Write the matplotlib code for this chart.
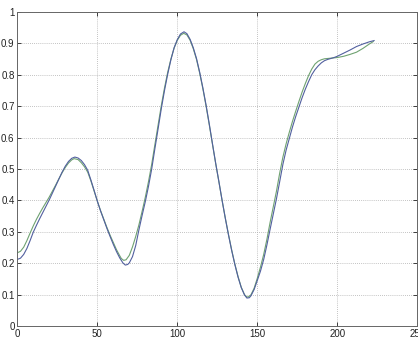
import matplotlib
matplotlib.use("Agg")
import matplotlib.pyplot as plt

# first run (blue)
blue_x = [0, 2, 4, 6, 8, 10, 12, 14, 16, 18, 20, 22, 24, 26, 28, 30, 32, 34, 36, 38,
          40, 42, 44, 46, 48, 50, 52, 54, 56, 58, 60, 62, 64, 66, 67.5, 69, 70, 72, 74,
          76, 78, 80, 82, 84, 86, 88, 90, 92, 94, 96, 98, 100, 102, 104.2, 106, 108, 110,
          112, 114, 116, 118, 120, 122, 124, 126, 128, 130, 132, 134, 136, 138, 140, 142,
          143.5, 145, 146, 148, 150, 152, 154, 156, 158, 160, 162, 164, 166, 168, 170, 172,
          174, 176, 178, 180, 182, 184, 186, 188, 190, 192, 194, 196, 198, 200, 204, 208,
          212, 216, 220, 223]
blue_y = [0.212, 0.216, 0.228, 0.247, 0.272, 0.299, 0.321, 0.342, 0.362, 0.382, 0.402,
          0.424, 0.446, 0.468, 0.490, 0.509, 0.524, 0.534, 0.538, 0.535, 0.527, 0.514,
          0.496, 0.465, 0.432, 0.398, 0.367, 0.339, 0.311, 0.285, 0.260, 0.237, 0.217,
          0.201, 0.194, 0.196, 0.201, 0.221, 0.256, 0.306, 0.352, 0.396, 0.445, 0.500,
          0.565, 0.628, 0.692, 0.750, 0.802, 0.848, 0.886, 0.912, 0.930, 0.937, 0.931,
          0.913, 0.886, 0.852, 0.808, 0.758, 0.703, 0.643, 0.580, 0.518, 0.460, 0.400,
          0.343, 0.290, 0.240, 0.195, 0.155, 0.122, 0.099, 0.089, 0.090, 0.096, 0.116,
          0.145, 0.175, 0.212, 0.258, 0.308, 0.357, 0.406, 0.460, 0.515, 0.560, 0.597,
          0.634, 0.667, 0.697, 0.727, 0.754, 0.778, 0.800, 0.816, 0.828, 0.838, 0.845,
          0.849, 0.852, 0.855, 0.859, 0.869, 0.879, 0.890, 0.898, 0.905, 0.909]

# second run (green)
green_x = [0, 2, 4, 6, 8, 10, 12, 14, 16, 18, 20, 22, 24, 26, 28, 30, 32, 34, 35.5, 38,
           40, 42, 44, 46, 48, 50, 52, 54, 56, 58, 60, 62, 64, 65, 66.5, 68, 70, 72, 74,
           76, 78, 80, 82, 84, 86, 88, 90, 92, 94, 96, 98, 100, 102, 104, 106, 108, 110,
           112, 114, 116, 118, 120, 122, 124, 126, 128, 130, 132, 134, 136, 138, 140, 142,
           143, 144.2, 146, 148, 150, 152, 154, 156, 158, 160, 162, 164, 166, 168, 170, 172,
           174, 176, 178, 180, 182, 184, 186, 188, 190, 192, 194, 196, 198, 200, 204, 208,
           212, 216, 220, 222.5]
green_y = [0.233, 0.238, 0.251, 0.272, 0.296, 0.319, 0.340, 0.359, 0.377, 0.394, 0.411,
           0.430, 0.449, 0.469, 0.488, 0.505, 0.519, 0.529, 0.533, 0.530, 0.520, 0.507,
           0.490, 0.462, 0.430, 0.398, 0.368, 0.341, 0.314, 0.289, 0.266, 0.243, 0.224,
           0.215, 0.209, 0.211, 0.225, 0.252, 0.285, 0.322, 0.365, 0.410, 0.460, 0.515,
           0.578, 0.640, 0.702, 0.758, 0.808, 0.850, 0.885, 0.910, 0.926, 0.932, 0.927,
           0.910, 0.883, 0.849, 0.805, 0.755, 0.700, 0.640, 0.578, 0.517, 0.459, 0.400,
           0.344, 0.291, 0.242, 0.197, 0.157, 0.123, 0.100, 0.094, 0.092, 0.099, 0.120,
           0.152, 0.188, 0.228, 0.276, 0.330, 0.380, 0.430, 0.487, 0.538, 0.580, 0.617,
           0.652, 0.684, 0.715, 0.745, 0.772, 0.797, 0.818, 0.834, 0.843, 0.848, 0.851,
           0.852, 0.853, 0.854, 0.855, 0.859, 0.865, 0.872, 0.884, 0.898, 0.906]

x_ticks = [0, 50, 100, 150, 200, 250]
y_ticks = [0, 0.1, 0.2, 0.3, 0.4, 0.5, 0.6, 0.7, 0.8, 0.9, 1]
y_labels = ["0", "0.1", "0.2", "0.3", "0.4", "0.5", "0.6", "0.7", "0.8", "0.9", "1"]

plt.rcParams["font.family"] = ["Liberation Sans", "DejaVu Sans"]

fig = plt.figure(figsize=(4.18, 3.38), dpi=100)
ax = fig.add_axes([17.3 / 418, 12 / 338, 400 / 418, 314 / 338])

ax.plot(green_x, green_y, color="#6fa271", linewidth=0.8)
ax.plot(blue_x, blue_y, color="#52609f", linewidth=0.8)

ax.set_xlim(0, 250)
ax.set_ylim(0, 1)
ax.set_xticks(x_ticks)
ax.set_yticks(y_ticks)
ax.set_yticklabels(y_labels)
ax.tick_params(direction="in", length=3, width=0.6, labelsize=7, pad=2,
               colors="#222222", top=True, right=True)
ax.grid(True, linestyle=(0, (1, 1.5)), color="#b0b0b0", linewidth=0.6)
for s in ax.spines.values():
    s.set_color("#666666")
    s.set_linewidth(0.7)

fig.savefig("out.png", dpi=100)
